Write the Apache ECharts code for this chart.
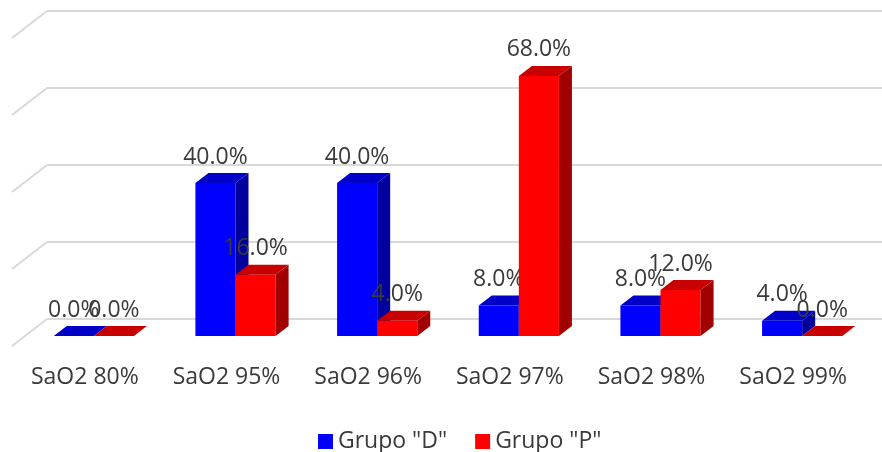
<!DOCTYPE html>
<html>
<head>
<meta charset="utf-8">
<script src="https://cdn.jsdelivr.net/npm/echarts@6/dist/echarts.min.js"></script>
<style>
  html, body { margin: 0; padding: 0; background: #fff; }
  #chart { width: 882px; height: 452px; }
</style>
</head>
<body>
<div id="chart"></div>
<script>
// Saturación de oxígeno por grupo (porcentaje de pacientes)
const categories = ['SaO2 80%', 'SaO2 95%', 'SaO2 96%', 'SaO2 97%', 'SaO2 98%', 'SaO2 99%'];
const grupoD = [0, 40, 40, 8, 8, 4];
const grupoP = [0, 16, 4, 68, 12, 0];
const valueTicks = [0, 20, 40, 60, 80];

const FONT = '"Open Sans", sans-serif';
const TEXT = '#3a3a3a';
const GRID_LINE = '#d9d9d9';
const FONT_SIZE = 23;

// Depth of the pseudo-3D boxes and of the side wall
const DEPTH_X = 13, DEPTH_Y = 10;
const WALL_X = 35, WALL_Y = 27;

function boxRenderer(offsetSide, colors) {
  return function (params, api) {
    const idx = api.value(0);
    const val = api.value(1);
    const base = api.coord([idx, 0]);
    const top = api.coord([idx, val]);
    const band = api.size([1, 0])[0];
    const w = band * 0.283;
    const x0 = base[0] + (offsetSide < 0 ? -w : 0);
    const x1 = x0 + w;
    const yb = base[1];
    const yt = top[1];
    const children = [];
    if (val > 0) {
      children.push({
        type: 'rect',
        shape: { x: x0, y: yt, width: w, height: yb - yt },
        style: { fill: colors.front }
      });
      children.push({
        type: 'polygon',
        shape: { points: [[x1, yt], [x1 + DEPTH_X, yt - DEPTH_Y], [x1 + DEPTH_X, yb - DEPTH_Y], [x1, yb]] },
        style: { fill: colors.side }
      });
    }
    children.push({
      type: 'polygon',
      shape: { points: [[x0, yt], [x1, yt], [x1 + DEPTH_X, yt - DEPTH_Y], [x0 + DEPTH_X, yt - DEPTH_Y]] },
      style: { fill: colors.top }
    });
    children.push({
      type: 'text',
      style: {
        text: val.toFixed(1) + '%',
        x: x0 + w / 2,
        y: yt - 26,
        align: 'center',
        verticalAlign: 'middle',
        fill: TEXT,
        font: FONT_SIZE + 'px ' + FONT
      },
      z2: 10
    });
    return { type: 'group', children: children };
  };
}

const chart = echarts.init(document.getElementById('chart'), null, { renderer: 'canvas' });

chart.setOption({
  animation: false,
  backgroundColor: '#ffffff',
  textStyle: { fontFamily: FONT, color: TEXT },
  legend: {
    left: 313,
    top: 425,
    icon: 'rect',
    itemWidth: 15,
    itemHeight: 15,
    itemGap: 28,
    textStyle: { fontFamily: FONT, fontSize: FONT_SIZE, color: TEXT },
    data: ['Grupo "D"', 'Grupo "P"']
  },
  grid: [
    { left: 23, right: 9, top: 30, bottom: 116 },   // boxes
    { left: 14, right: 18, top: 30, bottom: 116 },  // category labels
    { left: 47, right: 0, top: 11, bottom: 133 }    // back wall
  ],
  xAxis: [
    { gridIndex: 0, type: 'category', data: categories, show: false },
    {
      gridIndex: 1, type: 'category', data: categories,
      axisLine: { show: false }, axisTick: { show: false },
      axisLabel: { margin: 30, fontFamily: FONT, fontSize: FONT_SIZE, color: TEXT }
    },
    { gridIndex: 2, type: 'value', min: 0, max: 1, show: false }
  ],
  yAxis: [
    { gridIndex: 0, type: 'value', min: 0, max: 80, show: false },
    { gridIndex: 1, type: 'value', min: 0, max: 80, show: false },
    {
      gridIndex: 2, type: 'value', min: 0, max: 80, interval: 20,
      axisLine: { show: false }, axisTick: { show: false }, axisLabel: { show: false },
      splitLine: { show: true, lineStyle: { color: GRID_LINE, width: 2 } }
    }
  ],
  series: [
    {
      // side wall of the plot area
      type: 'custom',
      xAxisIndex: 2, yAxisIndex: 2,
      silent: true,
      data: valueTicks.map(v => [0, v]),
      renderItem: function (params, api) {
        const p = api.coord([0, api.value(1)]);
        return {
          type: 'line',
          shape: { x1: p[0] - WALL_X, y1: p[1] + WALL_Y, x2: p[0], y2: p[1] },
          style: { stroke: GRID_LINE, lineWidth: 2 }
        };
      },
      z: 1
    },
    {
      name: 'Grupo "D"',
      type: 'custom',
      xAxisIndex: 0, yAxisIndex: 0,
      itemStyle: { color: '#0000ff' },
      data: grupoD.map((v, i) => [i, v]),
      renderItem: boxRenderer(-1, { front: '#0000ff', side: '#00009e', top: '#0000c8' }),
      z: 2
    },
    {
      name: 'Grupo "P"',
      type: 'custom',
      xAxisIndex: 0, yAxisIndex: 0,
      itemStyle: { color: '#ff0000' },
      data: grupoP.map((v, i) => [i, v]),
      renderItem: boxRenderer(1, { front: '#ff0000', side: '#a00000', top: '#c80000' }),
      z: 3
    }
  ]
});
</script>
</body>
</html>
